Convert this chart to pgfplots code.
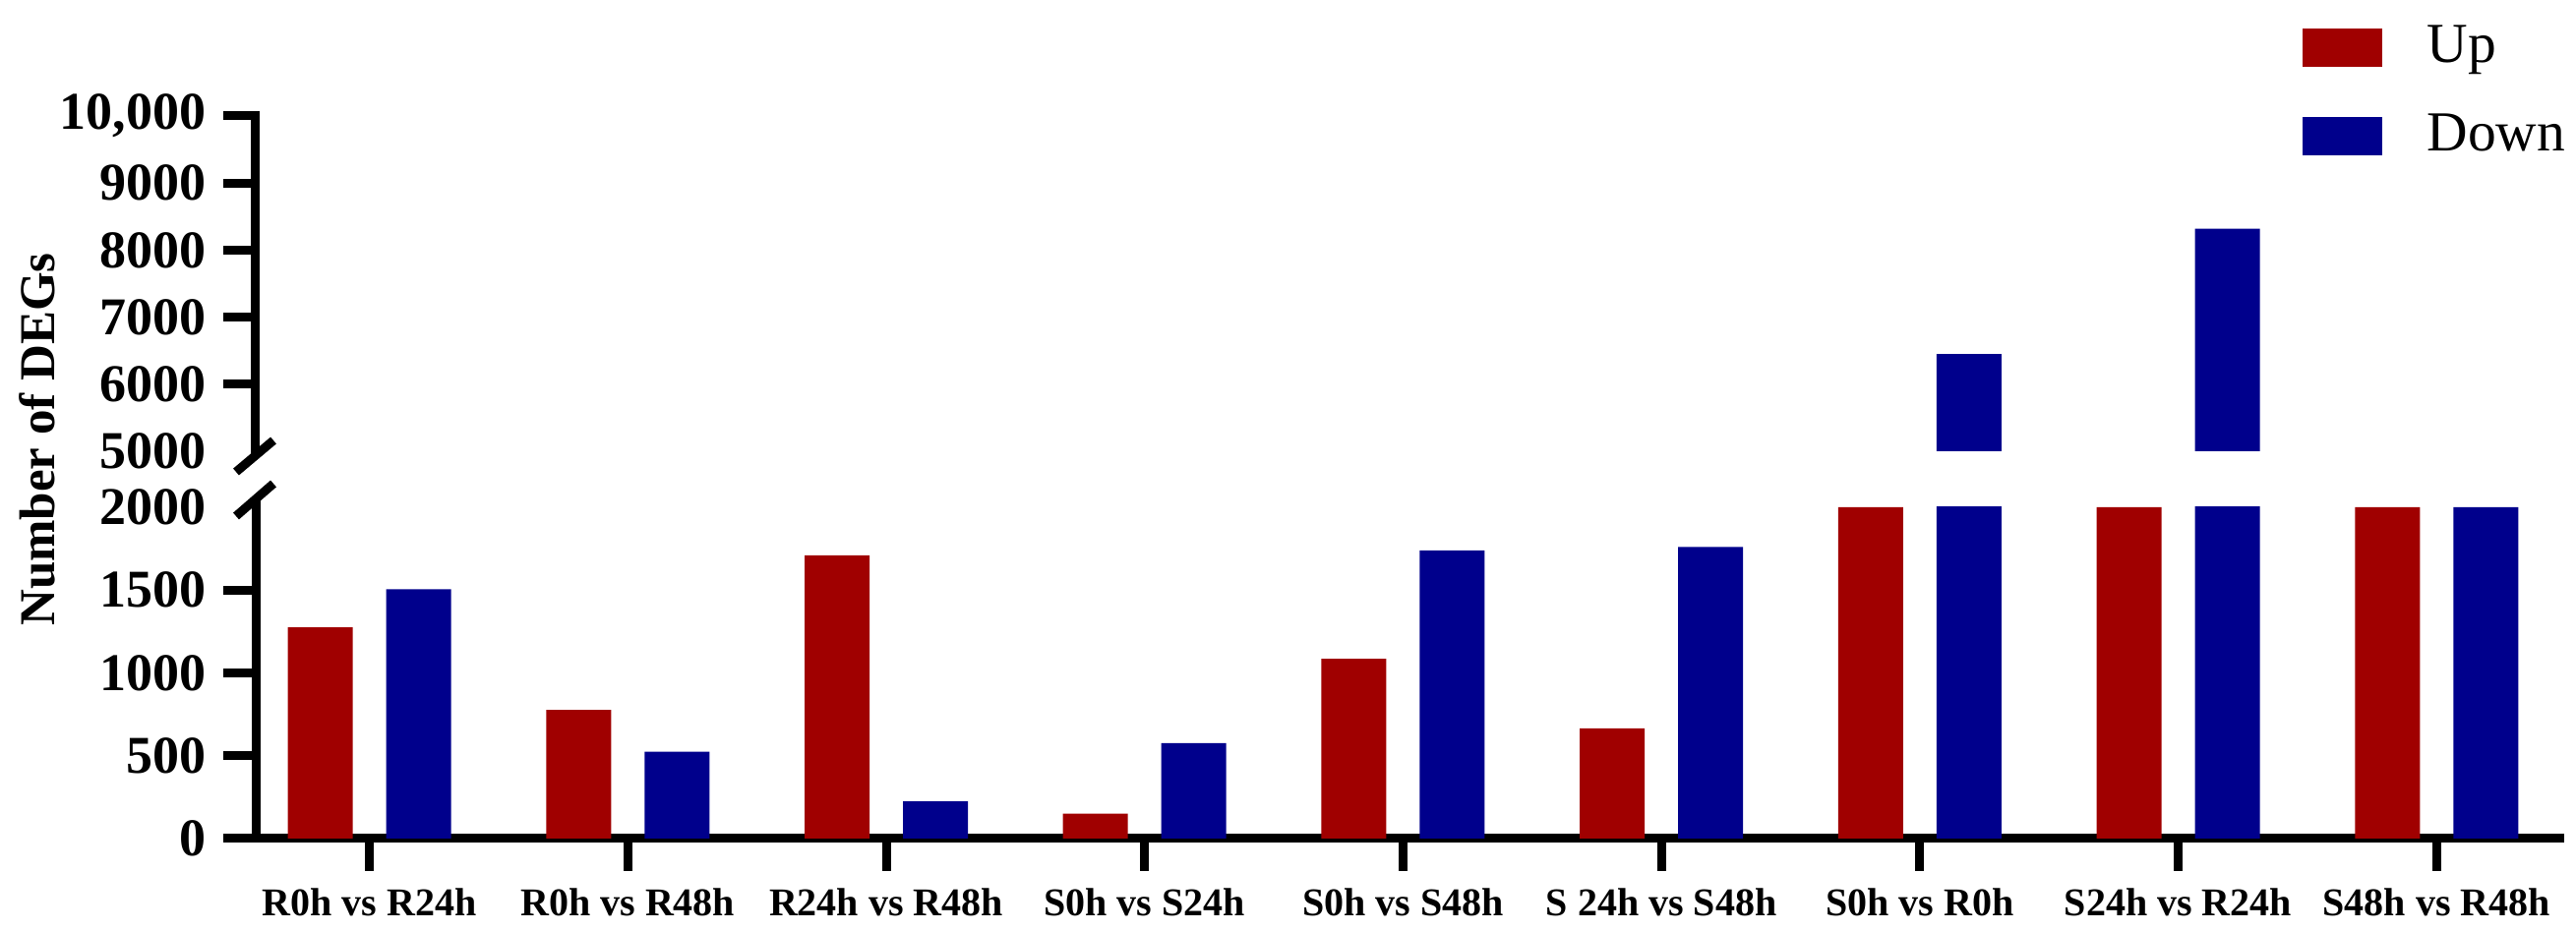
\documentclass[border=0pt]{standalone}
\usepackage{fontspec}
\setmainfont{Liberation Serif}
\usepackage{pgfplots}
\usepackage{pgfplotstable}
\pgfplotsset{compat=1.18}
\definecolor{upred}{HTML}{A00000}
\definecolor{downblue}{HTML}{00008C}

\pgfplotstableread{
x up down
0 1275 1505
1 776 524
2 1710 224
3 150 576
4 1085 1740
5 665 1760
6 2000 6450
7 2000 8320
8 2000 2000
}\degs

\begin{document}
\begin{tikzpicture}
\useasboundingbox (0,0) rectangle (523.8pt,189.4pt);
\pgfplotsset{common/.style={
  scale only axis, width=468.4pt, xmin=-0.44, xmax=8.475,
  ybar, bar width=13.2pt, clip mode=individual,
  axis line style={line width=1.8pt, line cap=rect},
  tick style={line width=1.8pt, black},
  tick align=outside, major tick length=6.6pt,
  scaled y ticks=false,
  /pgf/number format/assume math mode=true,
  yticklabel style={font=\fontsize{10.8}{12}\selectfont\bfseries},
}}
\begin{axis}[common, at={(52pt,18.8pt)}, anchor=south west, height=67.4pt,
  ymin=0, ymax=2000, axis x line*=bottom, axis y line*=left,
  xtick={0,...,8},
  xticklabels={R0h vs R24h, R0h vs R48h, R24h vs R48h, S0h vs S24h, S0h vs S48h, S 24h vs S48h, S0h vs R0h, S24h vs R24h, S48h vs R48h},
  xticklabel style={font=\fontsize{8}{9}\selectfont\bfseries},
  ytick={0,500,1000,1500}, yticklabels={0,500,1000,1500},
  extra y ticks={2000}, extra y tick labels={2000},
  extra y tick style={major tick length=0pt, yticklabel style={xshift=-6.6pt}},
]
\addplot[fill=upred, draw=none, bar shift=-10pt] table[x=x,y=up]{\degs};
\addplot[fill=downblue, draw=none, bar shift=10pt] table[x=x,y=down]{\degs};
\draw[line width=1.8pt] (rel axis cs:0,1) -- ([yshift=1.6pt]rel axis cs:0,1);
\draw[line width=1.8pt] ([shift={(-4pt,-1.8pt)}]rel axis cs:0,1) -- ([shift={(3.6pt,4.8pt)}]rel axis cs:0,1);
\end{axis}
\begin{axis}[common, at={(52pt,97.6pt)}, anchor=south west, height=68.2pt,
  ymin=5000, ymax=10000, axis y line*=left, axis x line=none,
  ytick={6000,7000,8000,9000,10000}, yticklabels={6000,7000,8000,9000,{10,000}},
  extra y ticks={5000}, extra y tick labels={5000},
  extra y tick style={major tick length=0pt, yticklabel style={xshift=-6.6pt}},
  legend style={draw=none, fill=none, inner sep=0pt, at={(rel axis cs:0.888,1.2727)}, anchor=north west,
    nodes={inner sep=0pt}, row sep=9pt, font=\fontsize{11.5}{12}\selectfont,
    /tikz/every odd column/.append style={column sep=9.2pt}},
  legend cell align=left,
]
\addplot[fill=downblue, draw=none, bar shift=10pt, forget plot, restrict y to domain=5000:100000] table[x=x,y=down]{\degs};
\addlegendimage{legend image code/.code={\fill[upred] (0pt,-3.7pt) rectangle (15.8pt,3.7pt);}}
\addlegendentry{Up}
\addlegendimage{legend image code/.code={\fill[downblue] (0pt,-3.7pt) rectangle (15.8pt,3.7pt);}}
\addlegendentry{Down}
\draw[line width=1.8pt] ([shift={(-4pt,-4.2pt)}]rel axis cs:0,0) -- ([shift={(3.6pt,2.2pt)}]rel axis cs:0,0);
\end{axis}
\node[rotate=90, font=\fontsize{10.2}{12}\selectfont\bfseries] at (7.6pt,100pt) {Number of DEGs};
\end{tikzpicture}
\end{document}
